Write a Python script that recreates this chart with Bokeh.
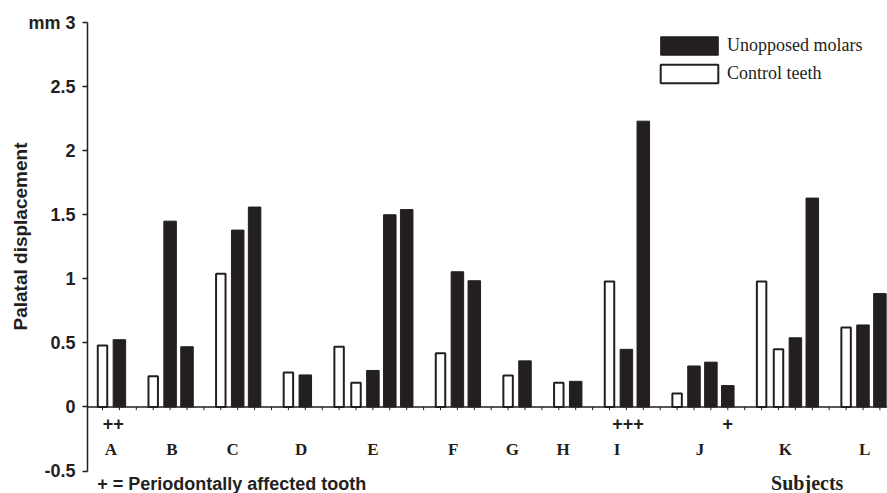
from bokeh.plotting import figure
from bokeh.models import FixedTicker, Span, Legend, LegendItem, Title
from bokeh.core.properties import value
from bokeh.embed import file_html
from bokeh.resources import INLINE

# ---- data ----
subjects = ["A", "B", "C", "D", "E", "F", "G", "H", "I", "J", "K", "L"]
subject_pos = [0.5, 4.1, 7.7, 11.75, 16.0, 20.75, 24.25, 27.25, 30.45, 35.35, 40.4, 45.1]

control_pos = [0, 3, 7, 11, 14, 15, 20, 24, 27, 30, 34, 39, 40, 44]
control_val = [0.48, 0.24, 1.04, 0.27, 0.47, 0.19, 0.42, 0.245, 0.19, 0.98, 0.105, 0.98, 0.45, 0.62]

molar_pos = [1, 4, 5, 8, 9, 12, 16, 17, 18, 21, 22, 25, 28, 31, 32, 35, 36, 37, 41, 42, 45, 46]
molar_val = [0.525, 1.45, 0.47, 1.38, 1.56, 0.25, 0.285, 1.50, 1.54, 1.055, 0.985, 0.36, 0.20,
             0.45, 2.23, 0.32, 0.35, 0.167, 0.54, 1.63, 0.64, 0.885]

perio_marks = ["++", "+++", "+"]
perio_pos = [0.63, 31.1, 37.0]

n_positions = 47
y_ticks = [-0.5, 0, 0.5, 1, 1.5, 2, 2.5, 3]
y_tick_labels = ["-0.5", "0", "0.5", "1", "1.5", "2", "2.5", "mm 3"]

INK = "#231f20"
SANS = "Liberation Sans"
SERIF = "Liberation Serif"

p = figure(width=887, height=493, x_range=(-0.888, 46.45), y_range=(-0.675, 3.0),
           output_backend="svg", toolbar_location=None, x_axis_location=None,
           min_border_left=87, min_border_right=0, min_border_top=22, min_border_bottom=0)
p.outline_line_color = None
p.grid.visible = False

ax = p.yaxis[0]
ax.ticker = FixedTicker(ticks=y_ticks)
ax.major_label_overrides = {t: l for t, l in zip(y_ticks, y_tick_labels)}
ax.bounds = (-0.5, 3)
ax.axis_line_color = INK
ax.axis_line_width = 1.5
ax.major_tick_line_color = INK
ax.major_tick_line_width = 1.5
ax.major_tick_out = 5
ax.major_tick_in = 0
ax.minor_tick_line_color = None
ax.major_label_standoff = 7
ax.major_label_text_font = SANS
ax.major_label_text_font_style = "bold"
ax.major_label_text_font_size = "18px"
ax.major_label_text_color = INK

# y-axis title as a left-side title, shifted along the axis
p.add_layout(Title(text="Palatal displacement", align="left", offset=163, standoff=-10,
                   vertical_align="bottom",
                   text_font=SANS, text_font_style="bold", text_font_size="19px",
                   text_color=INK), "left")

# x axis line at zero with small ticks
p.add_layout(Span(location=0, dimension="width", line_color=INK, line_width=1.5))
tick_x = list(range(n_positions))
p.segment(x0=tick_x, x1=tick_x, y0=0, y1=-0.025, line_color=INK, line_width=1)

ctrl = p.vbar(x=control_pos, top=control_val, bottom=0, width=0.56,
              fill_color="white", line_color=INK, line_width=2)
molar = p.vbar(x=molar_pos, top=molar_val, bottom=0, width=0.74,
               fill_color=INK, line_color=INK, line_width=1)

p.text(x=subject_pos, y=-0.332, text=subjects, text_font=value(SERIF), text_font_style="bold",
       text_font_size="17px", text_align="center", text_baseline="middle", text_color=INK)
p.text(x=perio_pos, y=-0.129, text=perio_marks, text_font=value(SANS), text_font_style="bold",
       text_font_size="18px", text_align="center", text_baseline="middle", text_color=INK)
p.text(x=[-0.31], y=[-0.6], text=["+ = Periodontally affected tooth"], text_font=value(SANS),
       text_font_style="bold", text_font_size="18px", text_align="left",
       text_baseline="middle", text_color=INK)
p.text(x=[41.7], y=[-0.59], text=["Subjects"], text_font=value(SERIF), text_font_style="bold",
       text_font_size="20px", text_align="center", text_baseline="middle", text_color=INK)

legend = Legend(items=[LegendItem(label="Unopposed molars", renderers=[molar]),
                       LegendItem(label="Control teeth", renderers=[ctrl])],
                location=(566, 408), padding=5, glyph_width=72, glyph_height=23,
                label_height=23, label_standoff=2, spacing=5, border_line_color=None,
                background_fill_alpha=0, label_text_font=SERIF, label_text_font_size="18px",
                label_text_color=INK)
p.add_layout(legend)

open("out.html", "w").write(file_html(p, INLINE))
